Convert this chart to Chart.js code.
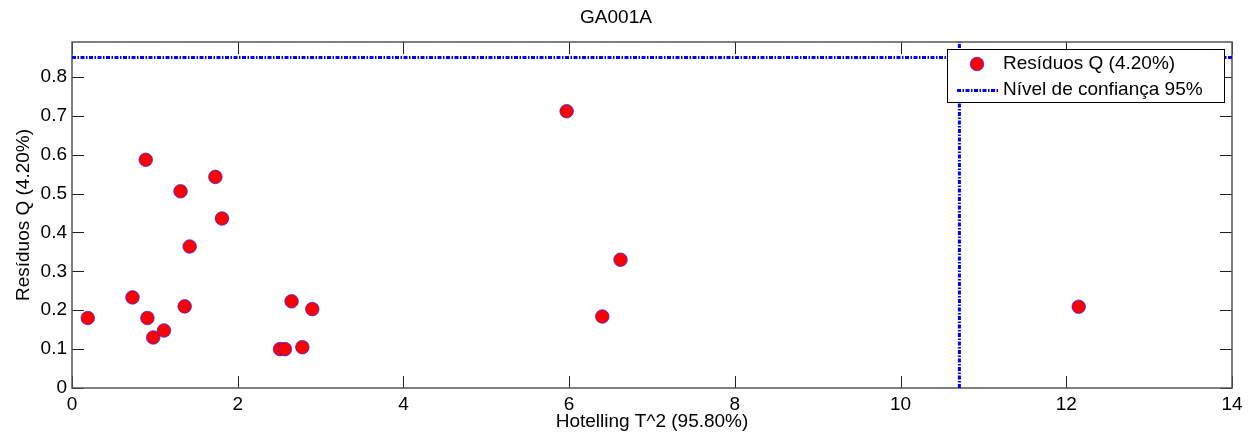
<!DOCTYPE html>
<html>
<head>
<meta charset="utf-8">
<script src="https://cdn.jsdelivr.net/npm/chart.js@4"></script>
<style>
  html, body { margin: 0; padding: 0; background: #fff; }
  #wrap { width: 1250px; height: 440px; }
</style>
</head>
<body>
<div id="wrap"><canvas id="qtChart" width="1250" height="440"></canvas></div>
<script>
// Hotelling T^2 vs Q residuals, sample GA001A
const hotellingT2 = [0.19, 0.73, 0.89, 0.91, 0.98, 1.11, 1.31, 1.36, 1.42, 1.73, 1.81,
                     2.51, 2.57, 2.65, 2.78, 2.90, 5.97, 6.40, 6.62, 12.15];
const residuosQ   = [0.180, 0.233, 0.587, 0.180, 0.130, 0.148, 0.506, 0.210, 0.364, 0.543, 0.436,
                     0.100, 0.100, 0.223, 0.105, 0.203, 0.712, 0.184, 0.330, 0.209];
const limiteQ = 0.85;      // nivel de confianca 95% (Q)
const limiteT2 = 10.71;    // nivel de confianca 95% (T^2)
const xRange = [0, 14];
const yRange = [0, 0.89];

const FONT = "'Liberation Sans', Arial, sans-serif";

// inward ticks + box like the matlab axes
const axesBox = {
    id: 'axesBox',
    beforeDatasetsDraw(chart) {
        const { ctx, chartArea: a, scales } = chart;
        const len = 12;
        ctx.save();
        ctx.strokeStyle = '#222';
        ctx.lineWidth = 1;
        ctx.beginPath();
        scales.x.ticks.forEach(t => {
            const px = Math.round(scales.x.getPixelForValue(t.value)) + 0.5;
            ctx.moveTo(px, a.bottom); ctx.lineTo(px, a.bottom - len);
            ctx.moveTo(px, a.top); ctx.lineTo(px, a.top + len);
        });
        scales.y.ticks.forEach(t => {
            const py = Math.round(scales.y.getPixelForValue(t.value)) + 0.5;
            ctx.moveTo(a.left, py); ctx.lineTo(a.left + len, py);
            ctx.moveTo(a.right, py); ctx.lineTo(a.right - len, py);
        });
        ctx.stroke();
        ctx.strokeStyle = '#555';
        ctx.lineWidth = 1.5;
        ctx.strokeRect(a.left, a.top, a.right - a.left, a.bottom - a.top);
        ctx.restore();
    }
};

// legend box in the upper right corner
const legendBox = {
    id: 'legendBox',
    afterDraw(chart) {
        const { ctx } = chart;
        const ds = chart.data.datasets;
        const x0 = 947, y0 = 49, w = 277, h = 53;
        ctx.save();
        ctx.fillStyle = '#fff';
        ctx.fillRect(x0, y0, w, h);
        ctx.strokeStyle = '#000';
        ctx.lineWidth = 1;
        ctx.strokeRect(x0 + 0.5, y0 + 0.5, w, h);

        // row 1: marker
        ctx.beginPath();
        ctx.arc(977, 64, ds[0].pointRadius, 0, Math.PI * 2);
        ctx.fillStyle = ds[0].backgroundColor;
        ctx.fill();
        ctx.strokeStyle = ds[0].borderColor;
        ctx.lineWidth = ds[0].borderWidth;
        ctx.stroke();

        // row 2: line
        ctx.beginPath();
        ctx.setLineDash(ds[1].borderDash);
        ctx.strokeStyle = ds[1].borderColor;
        ctx.lineWidth = ds[1].borderWidth;
        ctx.moveTo(957, 90.5);
        ctx.lineTo(998, 90.5);
        ctx.stroke();
        ctx.setLineDash([]);

        ctx.fillStyle = '#000';
        ctx.font = '19px ' + FONT;
        ctx.textBaseline = 'middle';
        ctx.textAlign = 'left';
        ctx.fillText(ds[0].label, 1003, 64);
        ctx.fillText(ds[1].label, 1003, 90);
        ctx.restore();
    }
};

const pontos = hotellingT2.map((t, i) => ({ x: t, y: residuosQ[i] }));
const dashStyle = [4, 1.5, 1.5, 1.5];

const ctx = document.getElementById('qtChart').getContext('2d');
new Chart(ctx, {
    type: 'scatter',
    data: {
        datasets: [{
            label: 'Resíduos Q (4.20%)',
            data: pontos,
            pointRadius: 6.8,
            pointHoverRadius: 6.8,
            backgroundColor: '#ff0000',
            borderColor: '#2020ff',
            borderWidth: 0.7,
            order: 2
        }, {
            label: 'Nível de confiança 95%',
            data: [{ x: xRange[0], y: limiteQ }, { x: xRange[1], y: limiteQ }],
            showLine: true,
            pointRadius: 0,
            borderColor: '#0000ff',
            borderWidth: 3,
            borderDash: dashStyle,
            order: 1
        }, {
            label: 'T2 limite',
            data: [{ x: limiteT2, y: yRange[0] }, { x: limiteT2, y: yRange[1] }],
            showLine: true,
            pointRadius: 0,
            borderColor: '#0000ff',
            borderWidth: 3,
            borderDash: dashStyle,
            order: 1
        }]
    },
    options: {
        responsive: false,
        devicePixelRatio: 1,
        animation: false,
        layout: { padding: { left: 0, right: 18, top: 0, bottom: 0 } },
        plugins: {
            legend: { display: false },
            tooltip: { enabled: false },
            title: {
                display: true,
                text: 'GA001A',
                color: '#000',
                font: { family: FONT, size: 19, weight: 'normal', lineHeight: 1.2 },
                padding: { top: 6, bottom: 13.2 }
            }
        },
        scales: {
            x: {
                type: 'linear',
                min: xRange[0],
                max: xRange[1],
                grid: { drawOnChartArea: false, drawTicks: false },
                border: { display: false },
                ticks: {
                    stepSize: 2,
                    padding: 5,
                    color: '#000',
                    font: { family: FONT, size: 19, lineHeight: 1.2 },
                    callback: v => String(v)
                },
                title: {
                    display: true,
                    text: 'Hotelling T^2 (95.80%)',
                    color: '#000',
                    font: { family: FONT, size: 19, lineHeight: 1.2 },
                    padding: { top: 0, bottom: 6.6 }
                },
                afterFit(scale) { scale.height = 52; }
            },
            y: {
                type: 'linear',
                min: yRange[0],
                max: yRange[1],
                grid: { drawOnChartArea: false, drawTicks: false },
                border: { display: false },
                ticks: {
                    stepSize: 0.1,
                    includeBounds: false,
                    padding: 5,
                    color: '#000',
                    font: { family: FONT, size: 19, lineHeight: 1.2 },
                    callback: v => (v === 0 ? '0' : v.toFixed(1))
                },
                title: {
                    display: true,
                    text: 'Resíduos Q (4.20%)',
                    color: '#000',
                    font: { family: FONT, size: 19, lineHeight: 1.2 },
                    padding: { top: 12, bottom: 0 }
                },
                afterFit(scale) { scale.width = 72; }
            }
        }
    },
    plugins: [axesBox, legendBox]
});
</script>
</body>
</html>
